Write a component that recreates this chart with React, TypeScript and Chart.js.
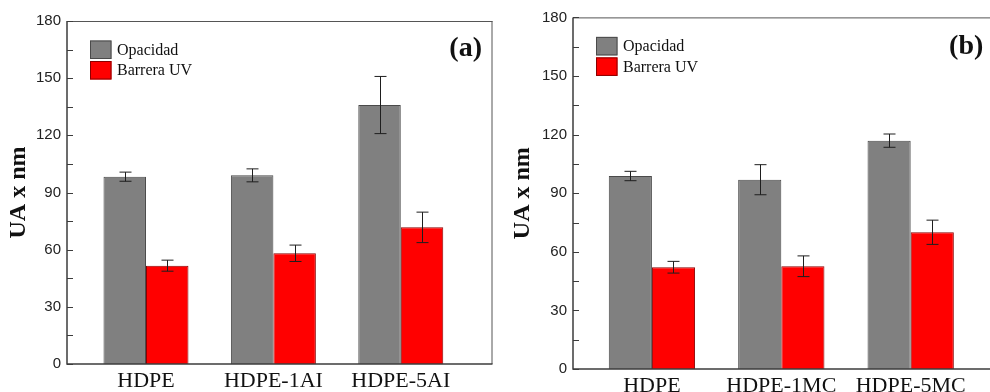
import React, { useEffect, useRef } from 'react';
import { Chart, registerables } from 'chart.js';

Chart.register(...registerables);

// ---------- data ----------
const seriesLabels = ['Opacidad', 'Barrera UV'];
const seriesColors = ['#808080', '#ff0000'];
const seriesBorders = ['#4a4a4a', '#8a0000'];

const categoriesA = ['HDPE', 'HDPE-1AI', 'HDPE-5AI'];
const opacidadA = [98.3, 99.0, 135.9];
const opacidadErrA = [2.4, 3.4, 15.0];
const barreraA = [51.6, 58.1, 71.7];
const barreraErrA = [2.9, 4.3, 8.0];

const categoriesB = ['HDPE', 'HDPE-1MC', 'HDPE-5MC'];
const opacidadB = [98.8, 96.9, 116.9];
const opacidadErrB = [2.4, 7.7, 3.4];
const barreraB = [52.1, 52.6, 70.0];
const barreraErrB = [3.0, 5.3, 6.2];

const yMax = 180;
const yMajorStep = 30;
const yMinorStep = 15;
const yTitle = 'UA x nm';

type Layout = {
  padTop: number;
  padRight: number;
  yWidth: number;
  xHeight: number;
  xMin: number;
  xMax: number;
  rightBorder: boolean;
  titleOffset: number;
  tagRightOffset: number;
  tagY: number;
};

type PanelProps = {
  categories: string[];
  opacidad: number[];
  opacidadErr: number[];
  barrera: number[];
  barreraErr: number[];
  tag: string;
  layout: Layout;
};

const AXIS = '#3c3c3c';

function Panel({ categories, opacidad, opacidadErr, barrera, barreraErr, tag, layout }: PanelProps) {
  const ref = useRef<HTMLCanvasElement | null>(null);

  useEffect(() => {
    if (!ref.current) return;
    const values = [opacidad, barrera];
    const errs = [opacidadErr, barreraErr];

    const decorPlugin = {
      id: 'decor',
      afterDatasetsDraw(chart: any) {
        const ctx = chart.ctx;
        const ys = chart.scales.y;
        ctx.save();
        ctx.strokeStyle = '#1e1e1e';
        ctx.lineWidth = 1;
        chart.data.datasets.forEach((ds: any, i: number) => {
          const meta = chart.getDatasetMeta(i);
          meta.data.forEach((el: any, j: number) => {
            const v = ds.data[j].y;
            const e = ds.errors[j];
            const x = Math.round(el.x) + 0.5;
            const yt = ys.getPixelForValue(v + e);
            const yb = ys.getPixelForValue(v - e);
            ctx.beginPath();
            ctx.moveTo(x, yt);
            ctx.lineTo(x, yb);
            ctx.moveTo(x - 6, yt);
            ctx.lineTo(x + 6, yt);
            ctx.moveTo(x - 6, yb);
            ctx.lineTo(x + 6, yb);
            ctx.stroke();
          });
        });
        ctx.restore();
      },
      afterDraw(chart: any) {
        const ctx = chart.ctx;
        const { left, right, top, bottom } = chart.chartArea;
        const ys = chart.scales.y;
        ctx.save();
        ctx.strokeStyle = '#555';
        ctx.lineWidth = 1;
        ctx.beginPath();
        ctx.moveTo(left, top + 0.5);
        ctx.lineTo(right, top + 0.5);
        if (layout.rightBorder) {
          ctx.moveTo(right - 0.5, top);
          ctx.lineTo(right - 0.5, bottom);
        }
        ctx.stroke();
        ctx.strokeStyle = AXIS;
        ctx.lineWidth = 1.5;
        ctx.beginPath();
        ctx.moveTo(left, top);
        ctx.lineTo(left, bottom);
        ctx.lineTo(right, bottom);
        ctx.stroke();
        ctx.lineWidth = 1.2;
        ctx.beginPath();
        for (let v = 0; v <= yMax; v += yMinorStep) {
          const y = Math.round(ys.getPixelForValue(v)) + 0.5;
          ctx.moveTo(left, y);
          ctx.lineTo(left + 6, y);
        }
        ctx.stroke();
        const bx = left + 23;
        const by = top + 19.5;
        ctx.font = '16px "Liberation Serif", "Times New Roman", serif';
        ctx.textBaseline = 'middle';
        ctx.textAlign = 'left';
        chart.data.datasets.forEach((ds: any, i: number) => {
          const yy = by + i * 20.5;
          ctx.fillStyle = ds.backgroundColor;
          ctx.fillRect(bx, yy, 21.5, 18.5);
          ctx.strokeStyle = ds.borderColor;
          ctx.lineWidth = 1;
          ctx.strokeRect(bx + 0.5, yy + 0.5, 20.5, 17.5);
          ctx.fillStyle = '#111';
          ctx.fillText(ds.label, bx + 27, yy + 10);
        });
        ctx.font = 'bold 28px "Liberation Serif", "Times New Roman", serif';
        ctx.textAlign = 'right';
        ctx.textBaseline = 'middle';
        ctx.fillStyle = '#111';
        ctx.fillText(tag, right - layout.tagRightOffset, layout.tagY);
        ctx.translate(left - layout.titleOffset, (top + bottom) / 2);
        ctx.rotate(-Math.PI / 2);
        ctx.font = 'bold 24px "Liberation Serif", "Times New Roman", serif';
        ctx.textAlign = 'center';
        ctx.fillText(yTitle, 0, 0);
        ctx.restore();
      },
    };

    const chart = new Chart(ref.current, {
      type: 'bar',
      data: {
        datasets: seriesLabels.map((label, i) => ({
          label,
          data: values[i].map((v, j) => ({ x: j + 1, y: v })),
          errors: errs[i],
          backgroundColor: seriesColors[i],
          borderColor: seriesBorders[i],
          borderWidth: 1,
          categoryPercentage: 0.667,
          barPercentage: 1,
        })) as any,
      },
      options: {
        animation: false,
        responsive: false,
        devicePixelRatio: 1,
        layout: { padding: { left: 0, top: layout.padTop, right: layout.padRight, bottom: 0 } },
        plugins: { legend: { display: false }, tooltip: { enabled: false } },
        scales: {
          x: {
            type: 'linear',
            offset: false,
            min: layout.xMin,
            max: layout.xMax,
            grid: { display: false, drawTicks: false, offset: false },
            border: { display: false },
            afterBuildTicks: (s: any) => {
              s.ticks = categories.map((_, i) => ({ value: i + 1 }));
            },
            afterFit: (s: any) => {
              s.height = layout.xHeight;
            },
            ticks: {
              autoSkip: false,
              maxRotation: 0,
              padding: 4,
              color: '#111',
              font: { family: '"Liberation Serif", "Times New Roman", serif', size: 22 },
              callback: (v: any) => categories[Math.round(Number(v)) - 1] ?? '',
            },
          },
          y: {
            min: 0,
            max: yMax,
            grid: { display: false, drawTicks: false },
            border: { display: false },
            afterFit: (s: any) => {
              s.width = layout.yWidth;
            },
            ticks: {
              stepSize: yMajorStep,
              padding: 6,
              color: '#222',
              font: { family: '"Liberation Sans", Arial, sans-serif', size: 15 },
            },
          },
        },
      },
      plugins: [decorPlugin],
    } as any);
    return () => chart.destroy();
  }, []);

  return <canvas ref={ref} width={495} height={392} style={{ display: 'block', width: 495, height: 392 }} />;
}

export default function App() {
  return (
    <div style={{ position: 'absolute', left: 0, top: 0, width: 990, height: 392, display: 'flex', background: '#fff' }}>
      <Panel
        categories={categoriesA}
        opacidad={opacidadA}
        opacidadErr={opacidadErrA}
        barrera={barreraA}
        barreraErr={barreraErrA}
        tag="(a)"
        layout={{
          padTop: 21,
          padRight: 2.5,
          yWidth: 67,
          xHeight: 28,
          xMin: 0.38,
          xMax: 3.72,
          rightBorder: true,
          titleOffset: 48.5,
          tagRightOffset: 10.5,
          tagY: 49,
        }}
      />
      <Panel
        categories={categoriesB}
        opacidad={opacidadB}
        opacidadErr={opacidadErrB}
        barrera={barreraB}
        barreraErr={barreraErrB}
        tag="(b)"
        layout={{
          padTop: 17.4,
          padRight: 0,
          yWidth: 78,
          xHeight: 23,
          xMin: 0.39,
          xMax: 3.613,
          rightBorder: false,
          titleOffset: 50.5,
          tagRightOffset: 6.7,
          tagY: 47,
        }}
      />
    </div>
  );
}
